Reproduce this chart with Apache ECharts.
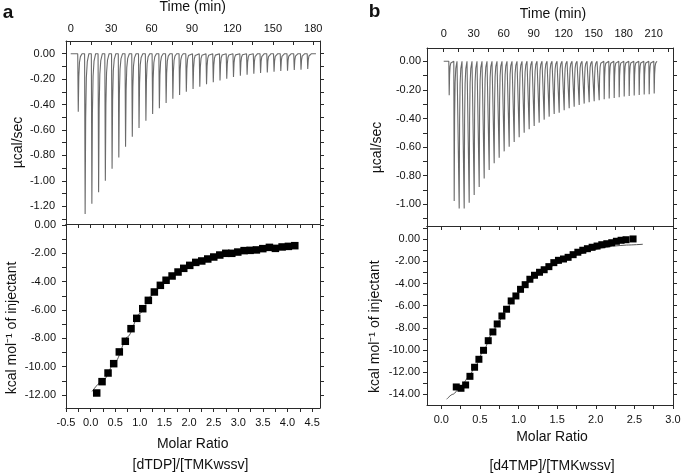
<!DOCTYPE html>
<html>
<head>
<meta charset="utf-8">
<script src="https://cdn.jsdelivr.net/npm/echarts@6/dist/echarts.min.js"></script>
<style>html,body{margin:0;padding:0;background:#fff}#main{width:685px;height:474px}</style>
</head>
<body>
<div id="main"></div>
<script>
// panel a, raw thermogram: injection time (min) and peak depth (ucal/sec)
var aTime = [5.4, 10.5, 15.5, 20.5, 25.5, 30.5, 35.5, 40.5, 45.5, 50.5, 55.6, 60.6, 65.6, 70.6, 75.6, 80.6, 85.6, 90.6, 95.6, 100.6,
  105.6, 110.6, 115.6, 120.6, 125.7, 130.7, 135.7, 140.7, 145.7, 150.7, 155.7, 160.7, 165.7, 170.7, 175.7];
var aPeak = [-0.457, -1.262, -1.18, -1.09, -1.00, -0.905, -0.816, -0.732, -0.654, -0.585, -0.528, -0.475, -0.43, -0.388, -0.354, -0.325, -0.30, -0.278, -0.26, -0.241,
  -0.225, -0.21, -0.197, -0.183, -0.173, -0.165, -0.157, -0.152, -0.147, -0.142, -0.136, -0.134, -0.128, -0.126, -0.12];
// panel a, integrated heats
var aRatio = [0.124, 0.232, 0.354, 0.469, 0.583, 0.705, 0.821, 0.937, 1.059, 1.173, 1.295, 1.417, 1.533, 1.655, 1.776, 1.892, 2.014,
  2.136, 2.258, 2.380, 2.502, 2.624, 2.746, 2.868, 2.990, 3.118, 3.240, 3.368, 3.498, 3.632, 3.754, 3.890, 4.018, 4.148];
var aHeat = [-11.86, -11.06, -10.45, -9.79, -8.96, -8.21, -7.32, -6.59, -5.91, -5.32, -4.73, -4.26, -3.90, -3.60, -3.32, -3.06, -2.85,
  -2.64, -2.54, -2.40, -2.26, -2.12, -2.00, -2.00, -1.91, -1.81, -1.79, -1.76, -1.67, -1.58, -1.65, -1.55, -1.51, -1.46];
var aFitX = [0.03, 0.25, 0.5, 0.75, 1.0, 1.25, 1.5, 1.75, 2.0, 2.25, 2.5, 2.75, 3.0, 3.25, 3.5, 3.75, 4.0, 4.15];
var aFitY = [-11.75, -11.0, -9.65, -7.9, -6.24, -4.95, -4.0, -3.37, -2.9, -2.55, -2.3, -2.1, -1.93, -1.8, -1.7, -1.62, -1.55, -1.5];

// panel b, raw thermogram
var bTime = [5.3, 10.3, 15.3, 20.3, 25.3, 30.3, 35.3, 40.3, 45.3, 50.3, 55.3, 60.3, 65.3, 70.3, 75.3, 80.3, 85.3, 90.3, 95.3, 100.3, 105.3,
  110.3, 115.3, 120.3, 125.3, 130.3, 135.3, 140.3, 145.3, 150.3, 155.3, 160.3, 165.3, 170.3, 175.3, 180.3, 185.3, 190.3, 195.3, 200.3, 205.3, 210.3];
var bPeak = [-0.238, -0.977, -1.03, -1.03, -0.99, -0.935, -0.88, -0.82, -0.76, -0.713, -0.674, -0.63, -0.597, -0.564, -0.531, -0.50, -0.476, -0.452, -0.429, -0.408, -0.387,
  -0.368, -0.359, -0.343, -0.329, -0.317, -0.306, -0.296, -0.287, -0.28, -0.273, -0.266, -0.261, -0.257, -0.252, -0.247, -0.243, -0.24, -0.236, -0.233, -0.231, -0.226];
// panel b, integrated heats
var bRatio = [0.194, 0.255, 0.315, 0.371, 0.431, 0.487, 0.547, 0.608, 0.668, 0.724, 0.785, 0.845, 0.905, 0.966, 1.026, 1.086, 1.147, 1.207, 1.272,
  1.332, 1.393, 1.457, 1.517, 1.582, 1.642, 1.707, 1.768, 1.832, 1.892, 1.953, 2.017, 2.078, 2.143, 2.207, 2.267, 2.328, 2.392, 2.483];
var bHeat = [-13.34, -13.46, -13.16, -12.38, -11.56, -10.84, -10.03, -9.16, -8.37, -7.65, -6.93, -6.32, -5.57, -5.12, -4.52, -4.10, -3.61, -3.25, -2.98,
  -2.75, -2.47, -2.11, -1.90, -1.78, -1.63, -1.39, -1.17, -0.99, -0.85, -0.72, -0.61, -0.49, -0.40, -0.31, -0.18, -0.09, -0.04, 0.03];
var bFitX = [0.07, 0.15, 0.25, 0.35, 0.45, 0.55, 0.65, 0.75, 0.85, 0.95, 1.05, 1.15, 1.25, 1.35, 1.5, 1.65, 1.8, 1.95, 2.1, 2.25, 2.4, 2.61];
var bFitY = [-14.45, -14.0, -13.35, -12.5, -11.35, -10.0, -8.6, -7.35, -6.2, -5.25, -4.45, -3.8, -3.25, -2.78, -2.2, -1.72, -1.3, -0.98, -0.76, -0.6, -0.52, -0.45];

// tick labels / tick positions
var aTimeLabels = [0, 30, 60, 90, 120, 150, 180];
var aTimeTicks = [0, 15, 30, 45, 60, 75, 90, 105, 120, 135, 150, 165, 180];
var aFlowLabels = [0, -0.2, -0.4, -0.6, -0.8, -1.0, -1.2];
var aFlowTicks = [0, -0.1, -0.2, -0.3, -0.4, -0.5, -0.6, -0.7, -0.8, -0.9, -1.0, -1.1, -1.2, -1.3];
var aRatioLabels = [-0.5, 0, 0.5, 1.0, 1.5, 2.0, 2.5, 3.0, 3.5, 4.0, 4.5];
var aRatioTicks = [-0.5, -0.25, 0, 0.25, 0.5, 0.75, 1.0, 1.25, 1.5, 1.75, 2.0, 2.25, 2.5, 2.75, 3.0, 3.25, 3.5, 3.75, 4.0, 4.25, 4.5];
var aHeatLabels = [0, -2, -4, -6, -8, -10, -12];
var aHeatTicks = [0, -1, -2, -3, -4, -5, -6, -7, -8, -9, -10, -11, -12];
var bTimeLabels = [0, 30, 60, 90, 120, 150, 180, 210];
var bTimeTicks = [0, 15, 30, 45, 60, 75, 90, 105, 120, 135, 150, 165, 180, 195, 210, 225];
var bFlowLabels = [0, -0.2, -0.4, -0.6, -0.8, -1.0];
var bFlowTicks = [0, -0.1, -0.2, -0.3, -0.4, -0.5, -0.6, -0.7, -0.8, -0.9, -1.0, -1.1];
var bRatioLabels = [0, 0.5, 1.0, 1.5, 2.0, 2.5, 3.0];
var bRatioTicks = [0, 0.25, 0.5, 0.75, 1.0, 1.25, 1.5, 1.75, 2.0, 2.25, 2.5, 2.75, 3.0];
var bHeatLabels = [0, -2, -4, -6, -8, -10, -12, -14];
var bHeatTicks = [1, 0, -1, -2, -3, -4, -5, -6, -7, -8, -9, -10, -11, -12, -13, -14];

var frame = '#2a2a2a';
var font = '"Liberation Sans", Arial, sans-serif';

// raw trace: sharp drop at each injection, then recovery to baseline
function trace(times, peaks, tEnd) {
  var pts = [[0, 0]];
  for (var i = 0; i < times.length; i++) {
    var t = times[i], d = peaks[i];
    pts.push([t - 0.2, 0], [t + 0.2, d], [t + 0.6, d * 0.4], [t + 1.1, d * 0.15], [t + 1.8, d * 0.05], [t + 3, 0]);
  }
  pts.push([tEnd, 0]);
  return pts;
}
function pairs(xs, ys) {
  return xs.map(function (x, i) { return [x, ys[i]]; });
}

function axis(grid, pos, min, max, ticks, labels, o) {
  o = o || {};
  return {
    type: 'value', gridIndex: grid, position: pos, min: min, max: max,
    axisLine: {show: true, onZero: false, lineStyle: {color: frame, width: 1}},
    axisTick: {show: !!ticks, inside: !!o.inside, length: 4, customValues: ticks || [], lineStyle: {color: frame}},
    axisLabel: {
      show: !!labels, customValues: labels || [], margin: o.margin || 8,
      fontSize: 11, color: '#111', fontFamily: font,
      formatter: function (v) { return (+v).toFixed(o.digits || 0); }
    },
    splitLine: {show: false}
  };
}

function txt(x, y, s, o) {
  o = o || {};
  return {
    type: 'text', x: x, y: y, rotation: o.rot || 0,
    style: {
      text: s, fill: '#111', font: (o.bold ? 'bold ' : '') + (o.size || 14) + 'px ' + font,
      align: 'center', verticalAlign: 'middle', textAlign: 'center', textVerticalAlign: 'middle'
    }
  };
}

var myChart = echarts.init(document.getElementById('main'));
var option = {
  animation: false,
  backgroundColor: '#fff',
  grid: [
    {left: 66, top: 41, width: 254, height: 183},
    {left: 66, top: 224, width: 254, height: 184},
    {left: 427, top: 48, width: 246, height: 178},
    {left: 427, top: 226, width: 246, height: 179}
  ],
  xAxis: [
    axis(0, 'top', -3.5, 185, aTimeTicks, aTimeLabels, {inside: true, margin: 7}),
    axis(0, 'bottom', -3.5, 185),
    axis(1, 'bottom', -0.5, 4.66, aRatioTicks, aRatioLabels, {margin: 9, digits: 1}),
    axis(1, 'top', -0.5, 4.66, aRatioTicks, null, {inside: true}),
    axis(2, 'top', -16.7, 229.3, bTimeTicks, bTimeLabels, {inside: true, margin: 9}),
    axis(2, 'bottom', -16.7, 229.3),
    axis(3, 'bottom', -0.185, 3.0, bRatioTicks, bRatioLabels, {margin: 9, digits: 1}),
    axis(3, 'top', -0.185, 3.0, bRatioTicks, null, {inside: true})
  ],
  yAxis: [
    axis(0, 'left', -1.34, 0.1, aFlowTicks, aFlowLabels, {margin: 11, digits: 2}),
    axis(0, 'right', -1.34, 0.1, aFlowTicks),
    axis(1, 'left', -12.92, 0.07, aHeatTicks, aHeatLabels, {margin: 10, digits: 2}),
    axis(1, 'right', -12.92, 0.07, aHeatTicks),
    axis(2, 'left', -1.152, 0.093, bFlowTicks, bFlowLabels, {margin: 6, digits: 2}),
    axis(2, 'right', -1.152, 0.093, bFlowTicks),
    axis(3, 'left', -14.97, 1.2, bHeatTicks, bHeatLabels, {margin: 7, digits: 2}),
    axis(3, 'right', -14.97, 1.2, bHeatTicks)
  ],
  series: [
    {type: 'line', xAxisIndex: 0, yAxisIndex: 0, data: trace(aTime, aPeak, 182), showSymbol: false,
      lineStyle: {color: '#6a6a6a', width: 1.1}},
    {type: 'line', xAxisIndex: 2, yAxisIndex: 2, data: pairs(aFitX, aFitY), showSymbol: false, smooth: 0.3,
      smoothMonotone: 'x', lineStyle: {color: '#555', width: 1}, z: 2},
    {type: 'scatter', xAxisIndex: 2, yAxisIndex: 2, data: pairs(aRatio, aHeat), symbol: 'rect', symbolSize: 7.5,
      itemStyle: {color: '#000', opacity: 1}, z: 3},
    {type: 'line', xAxisIndex: 4, yAxisIndex: 4, data: trace(bTime, bPeak, 214), showSymbol: false,
      lineStyle: {color: '#6a6a6a', width: 1.1}},
    {type: 'line', xAxisIndex: 6, yAxisIndex: 6, data: pairs(bFitX, bFitY), showSymbol: false, smooth: 0.3,
      smoothMonotone: 'x', lineStyle: {color: '#555', width: 1}, z: 2},
    {type: 'scatter', xAxisIndex: 6, yAxisIndex: 6, data: pairs(bRatio, bHeat), symbol: 'rect', symbolSize: 7,
      itemStyle: {color: '#000', opacity: 1}, z: 3}
  ],
  graphic: [
    txt(8, 12.5, 'a', {bold: true, size: 19}),
    txt(374.5, 11.5, 'b', {bold: true, size: 19}),
    txt(192.7, 7.5, 'Time (min)'),
    txt(553, 14, 'Time (min)'),
    txt(18, 142.5, 'µcal/sec', {rot: Math.PI / 2}),
    txt(376.7, 147.5, 'µcal/sec', {rot: Math.PI / 2}),
    txt(12, 328, 'kcal mol⁻¹ of injectant', {rot: Math.PI / 2}),
    txt(375, 326.7, 'kcal mol⁻¹ of injectant', {rot: Math.PI / 2}),
    txt(192.7, 444, 'Molar Ratio'),
    txt(552, 437, 'Molar Ratio'),
    txt(190.5, 465, '[dTDP]/[TMKwssv]'),
    txt(552, 466, '[d4TMP]/[TMKwssv]')
  ]
};
myChart.setOption(option);
</script>
</body>
</html>
